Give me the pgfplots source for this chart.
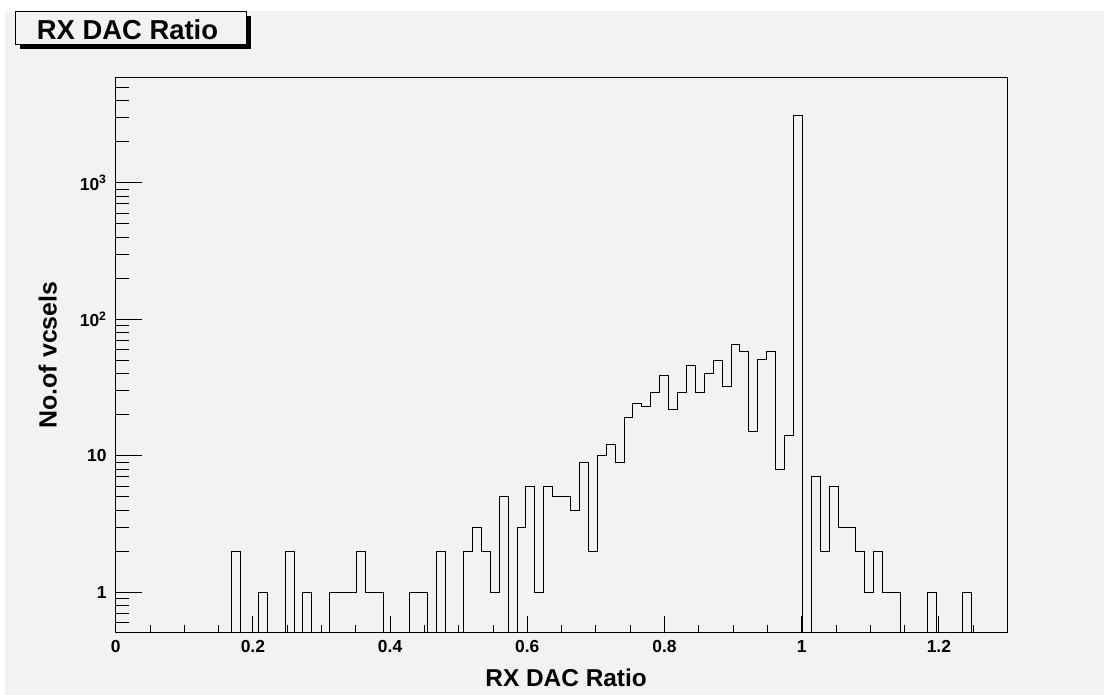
\documentclass[border=0pt]{standalone}
\usepackage{fontspec}
\setmainfont{Liberation Sans}
\usepackage{pgfplots}
\pgfplotsset{compat=1.18}
\definecolor{bg}{HTML}{F2F2F2}
\pgfplotstableread{
x y
0.000 0.01
0.013 0.01
0.026 0.01
0.039 0.01
0.052 0.01
0.065 0.01
0.078 0.01
0.091 0.01
0.104 0.01
0.117 0.01
0.130 0.01
0.143 0.01
0.156 0.01
0.169 2
0.182 0.01
0.195 0.01
0.208 1
0.221 0.01
0.234 0.01
0.247 2
0.260 0.01
0.273 1
0.286 0.01
0.299 0.01
0.312 1
0.325 1
0.338 1
0.351 2
0.364 1
0.377 1
0.390 0.01
0.403 0.01
0.416 0.01
0.429 1
0.442 1
0.455 0.01
0.468 2
0.481 0.01
0.494 0.01
0.507 2
0.520 3
0.533 2
0.546 1
0.559 5
0.572 0.01
0.585 3
0.598 6
0.611 1
0.624 6
0.637 5
0.650 5
0.663 4
0.676 9
0.689 2
0.702 10
0.715 12
0.728 9
0.741 19
0.754 24
0.767 23
0.780 29
0.793 39
0.806 22
0.819 29
0.832 46
0.845 29
0.858 40
0.871 50
0.884 32
0.897 65
0.910 58
0.923 15
0.936 51
0.949 58
0.962 8
0.975 14
0.988 3125
1.001 0.01
1.014 7
1.027 2
1.040 6
1.053 3
1.066 3
1.079 2
1.092 1
1.105 2
1.118 1
1.131 1
1.144 0.01
1.157 0.01
1.170 0.01
1.183 1
1.196 0.01
1.209 0.01
1.222 0.01
1.235 1
1.248 0.01
1.261 0.01
1.274 0.01
1.287 0.01
1.300 0.01
}\histdata
\begin{document}
\begin{tikzpicture}
\fill[white] (0,0) rectangle (1104bp,695bp);
\fill[bg] (5bp,0) rectangle (1104bp,684bp);
% title box
\fill[black] (19.5bp,645.5bp) rectangle (250.5bp,679bp);
\filldraw[fill=bg, draw=black, line width=1bp] (15.7bp,650bp) rectangle (246.7bp,683bp);
\node[anchor=base west, inner sep=0pt, font=\bfseries\fontsize{27.5}{27.5}\selectfont] at (36.7bp,655.7bp) {RX DAC Ratio};
\begin{axis}[
  at={(115.7bp,62.7bp)}, anchor=south west,
  scale only axis, width=891.8bp, height=554.6bp,
  xmin=0, xmax=1.3, ymode=log, ymin=0.509, ymax=5888,
  xtick=\empty,
  ytick={1,10,100,1000},
  yticklabels={1,10,{10\textsuperscript{2}},{10\textsuperscript{3}}},
  minor ytick={0.6,0.7,0.8,0.9,2,3,4,5,6,7,8,9,20,30,40,50,60,70,80,90,200,300,400,500,600,700,800,900,2000,3000,4000,5000},
  ytick pos=left, tick align=inside,
  major tick length=26bp, minor tick length=13bp,
  yticklabel style={font=\bfseries\fontsize{17.5}{17.5}\selectfont, inner sep=0pt, xshift=-9bp},
  axis line style={line width=1bp, black},
  every tick/.style={black, line width=1bp},
]
\addplot[const plot mark left, black, line width=1bp, line join=miter, mark=none] table[x=x, y=y] {\histdata};
\end{axis}
\begin{axis}[
  at={(115.7bp,62.7bp)}, anchor=south west,
  scale only axis, width=891.8bp, height=554.6bp,
  xmin=0, xmax=1.3, ymode=log, ymin=0.509, ymax=5888,
  hide y axis,
  xtick={0,0.2,0.4,0.6,0.8,1,1.2},
  xticklabels={0,0.2,0.4,0.6,0.8,1,1.2},
  minor xtick={0.05,0.1,0.15,0.25,0.3,0.35,0.45,0.5,0.55,0.65,0.7,0.75,0.85,0.9,0.95,1.05,1.1,1.15,1.25},
  xtick pos=bottom, tick align=inside,
  major tick length=16bp, minor tick length=7.3bp,
  xticklabel style={font=\bfseries\fontsize{17.5}{17.5}\selectfont, inner sep=0pt, yshift=-7.7bp},
  axis line style={line width=1.3bp, black},
  every tick/.style={black, line width=1bp},
]
\addplot[draw=none] coordinates {(0.5,1)};
\end{axis}
\node[anchor=base east, inner sep=0pt, font=\bfseries\fontsize{24.5}{24.5}\selectfont] at (647bp,8.3bp) {RX DAC Ratio};
\node[rotate=90, anchor=base, inner sep=0pt, font=\bfseries\fontsize{25}{25}\selectfont] at (56.7bp,340bp) {No.of vcsels};
\pgfresetboundingbox
\useasboundingbox (0,0) rectangle (1104bp,695bp);
\end{tikzpicture}
\end{document}
